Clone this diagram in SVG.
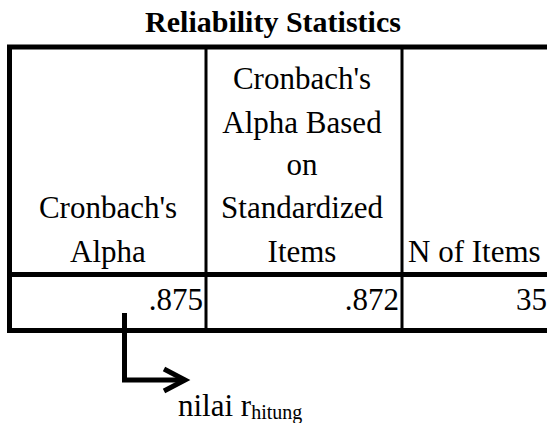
<svg xmlns="http://www.w3.org/2000/svg" width="547" height="423" viewBox="0 0 547 423">
<defs>
<style>
.t{font-family:"Liberation Serif","Times New Roman",serif;font-size:31px;fill:#000}
.title{font-family:"Liberation Serif","Times New Roman",serif;font-size:30px;font-weight:bold;fill:#000}
.thick{stroke:#000;stroke-width:5;fill:none}
.thin{stroke:#000;stroke-width:3;fill:none}
.arrow{stroke:#000;stroke-width:5;fill:none;stroke-linejoin:miter}
</style>
</defs>
<rect width="547" height="423" fill="#fff"/>
<g id="title"><text class="title" x="273" y="32" text-anchor="middle" font-family="Liberation Serif, serif">Reliability Statistics</text></g>
<g id="table">
<line class="thick" x1="7" y1="47" x2="547" y2="47"/>
<line class="thick" x1="9.5" y1="45" x2="9.5" y2="333"/>
<line class="thick" x1="12" y1="274.5" x2="547" y2="274.5"/>
<line class="thick" x1="7" y1="330.5" x2="547" y2="330.5"/>
<line class="thin" x1="206" y1="49" x2="206" y2="328"/>
<line class="thin" x1="402" y1="49" x2="402" y2="328"/>
</g>
<g id="header" font-family="Liberation Serif, serif">
<text class="t" x="108" y="218" text-anchor="middle">Cronbach's</text>
<text class="t" x="108" y="262" text-anchor="middle">Alpha</text>
<text class="t" x="302" y="89" text-anchor="middle">Cronbach's</text>
<text class="t" x="302" y="133" text-anchor="middle">Alpha Based</text>
<text class="t" x="302" y="175" text-anchor="middle">on</text>
<text class="t" x="302" y="218" text-anchor="middle">Standardized</text>
<text class="t" x="302" y="262" text-anchor="middle">Items</text>
<text class="t" x="408" y="262">N of Items</text>
</g>
<g id="values" font-family="Liberation Serif, serif">
<text class="t" x="203" y="310" text-anchor="end">.875</text>
<text class="t" x="399" y="310" text-anchor="end">.872</text>
<text class="t" x="547" y="310" text-anchor="end">35</text>
</g>
<g id="connectors">
<polyline class="arrow" points="124.5,313 124.5,380 184,380"/>
<polyline class="arrow" points="164,369 185,380 164,391"/>
</g>
<g id="label" font-family="Liberation Serif, serif">
<text class="t" x="178" y="416">nilai r<tspan font-size="20" dy="3">hitung</tspan></text>
</g>
</svg>
